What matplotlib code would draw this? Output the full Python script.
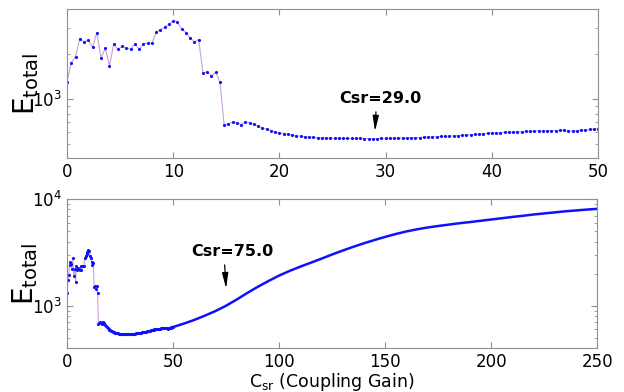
import numpy as np
import matplotlib
matplotlib.use("Agg")
import matplotlib.pyplot as plt
from matplotlib.ticker import NullFormatter

# ---- data ----
STEP_FINE = 0.4
# E_total sampled every 0.4 from Csr = 0 to 50
e_fine = [
    1310, 1754, 1923, 2551, 2421, 2485, 2222, 2797, 1893, 2188,
    1675, 2348, 2154, 2276, 2188, 2164, 2337, 2164, 2348, 2372,
    2372, 2824, 2929, 3048, 3176, 3364, 3290, 2942, 2797, 2562,
    2421, 2512, 1490, 1521, 1430, 1514, 1304, 667, 685, 698,
    692, 674, 706, 692, 677, 657, 643, 627,
    615, 604, 595, 587, 580, 574, 568, 563, 559, 556,
    553, 551, 549, 548, 547, 546, 545, 545, 544, 544,
    544, 544, 543, 543, 543, 543, 544, 544, 545, 545,
    546, 547, 548, 549, 551, 552, 554, 555, 557, 559,
    561, 563, 565, 567, 569, 571, 574, 576, 579, 582,
    585, 589, 591, 594, 596, 598, 600, 602, 604, 605,
    607, 608, 610, 611, 612, 613, 614, 615, 616, 617,
    612, 610, 613, 617, 621, 625, 628, 631,
]
c_fine = np.round(np.arange(len(e_fine)) * STEP_FINE, 1)

# coarser reading of the long sweep (bottom panel), Csr = 50..250
c_coarse = list(range(50, 251, 5))
e_coarse = [
    631, 678, 735, 807, 891, 1000, 1143, 1318, 1507, 1706,
    1919, 2123, 2328, 2535, 2767, 3027, 3296, 3573, 3855, 4140,
    4426, 4710, 4977, 5212, 5420, 5598, 5768, 5943, 6095, 6266,
    6442, 6622, 6808, 6982, 7178, 7345, 7516, 7691, 7834, 7980,
    8110,
]

CSR_TOP = 29.0
CSR_BOT = 75.0

LINE_COLOR = "#c8a0d8"
DOT_COLOR = "#1010ff"
SPINE_COLOR = "#909090"
ARROW = dict(arrowstyle="-|>,head_length=0.8,head_width=0.16", color="black",
             lw=0.9, shrinkA=2, shrinkB=0)


def style_axes(ax):
    ax.set_yscale("log")
    for spine in ax.spines.values():
        spine.set_color(SPINE_COLOR)
    ax.tick_params(which="both", direction="in", top=True, right=True,
                   color=SPINE_COLOR, labelsize=12)
    ax.tick_params(which="major", length=4)
    ax.tick_params(which="minor", length=2)
    ax.yaxis.set_minor_formatter(NullFormatter())


fig = plt.figure(figsize=(6.24, 3.92), dpi=100)

# --- top: zoom on 0..50 ---
ax1 = fig.add_axes([0.1074, 0.596, 0.851, 0.380])
ax1.plot(c_fine, e_fine, color=LINE_COLOR, lw=0.8, zorder=1)
ax1.plot(c_fine, e_fine, ".", color=DOT_COLOR, ms=2.5, zorder=2)
style_axes(ax1)
ax1.set_xlim(0, 50)
ax1.set_ylim(400, 4000)
ax1.set_xticks([0, 10, 20, 30, 40, 50])
ax1.set_ylabel(r"$\mathregular{E_{total}}$", fontsize=20, labelpad=-6)

i_top = int(round(CSR_TOP / STEP_FINE))
ax1.annotate(f"Csr={CSR_TOP}", xy=(CSR_TOP, e_fine[i_top] * 1.12),
             xytext=(CSR_TOP + 0.5, e_fine[i_top] * 1.85),
             ha="center", va="center", fontsize=11.5, fontweight="bold",
             arrowprops=dict(ARROW, relpos=(0.45, 0.0)))

# --- bottom: full sweep 0..250 ---
ax2 = fig.add_axes([0.1074, 0.112, 0.850, 0.380])
ax2.plot(c_fine, e_fine, color=LINE_COLOR, lw=0.8, zorder=1)
ax2.plot(c_fine, e_fine, ".", color=DOT_COLOR, ms=2.5, zorder=2)
ax2.plot(c_coarse, e_coarse, color=DOT_COLOR, lw=1.8, zorder=2)
style_axes(ax2)
ax2.set_xlim(0, 250)
ax2.set_ylim(400, 10000)
ax2.set_xticks([0, 50, 100, 150, 200, 250])
ax2.set_ylabel(r"$\mathregular{E_{total}}$", fontsize=20, labelpad=-6)
ax2.set_xlabel(r"$\mathregular{C_{sr}}$ (Coupling Gain)", fontsize=12.5, labelpad=0)

i_bot = c_coarse.index(int(CSR_BOT))
ax2.annotate(f"Csr={CSR_BOT}", xy=(CSR_BOT, e_coarse[i_bot] * 1.45),
             xytext=(CSR_BOT + 3, e_coarse[i_bot] * 3.2),
             ha="center", va="center", fontsize=11.5, fontweight="bold",
             arrowprops=dict(ARROW, relpos=(0.4, 0.0)))

fig.savefig("out.png", dpi=100)
